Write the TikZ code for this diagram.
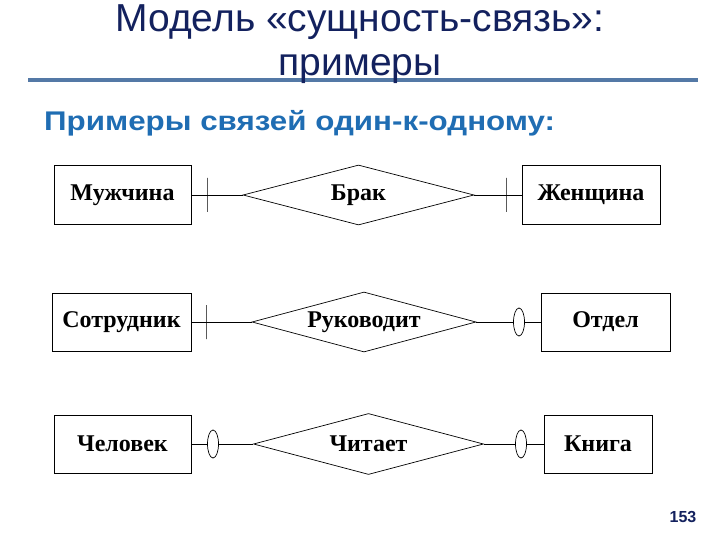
\documentclass[tikz,border=0pt]{standalone}
\usepackage{fontspec}
\setmainfont{Liberation Serif}
\setsansfont{Liberation Sans}
\usepackage{graphicx}
\usepackage{tikz}
\usetikzlibrary{shapes.geometric}
\definecolor{titlenavy}{HTML}{13215E}
\definecolor{subblue}{HTML}{1F6DB3}
\definecolor{rulesteel}{HTML}{5479A6}

\begin{document}
\begin{tikzpicture}[x=1pt, y=-1pt,
  entity/.style={rectangle, draw=black, line width=0.9pt, minimum height=59pt, inner sep=0pt, font=\fontsize{24}{26}\selectfont\bfseries},
  relship/.style={diamond, draw=black, line width=0.7pt, minimum height=60pt, inner sep=0pt},
  reltext/.style={inner sep=0pt, font=\fontsize{24}{26}\selectfont\bfseries},
  onebar/.style={rectangle, draw=black, line width=0.7pt, minimum width=0pt, minimum height=34pt, inner sep=0pt},
  zeroring/.style={ellipse, draw=black, fill=white, line width=0.7pt, minimum width=11pt, minimum height=28pt, inner sep=0pt}]
  \useasboundingbox[fill=white] (0,0) rectangle (720,540);

  % heading
  \draw[rulesteel, line width=3.5pt] (28,80) -- (698,80);
  \node (title1) [anchor=base, text=titlenavy, font=\sffamily\fontsize{39}{42}\selectfont] at (360,32) {Модель «сущность-связь»:};
  \node (title2) [anchor=base, text=titlenavy, font=\sffamily\fontsize{39}{42}\selectfont] at (360,76) {примеры};
  \node (sub) [anchor=base west, inner sep=0pt, text=subblue, font=\sffamily\bfseries\fontsize{27}{30}\selectfont] at (44,131) {\scalebox{1.16}[1]{Примеры связей один-к-одному:}};

  % row 1
  \node (man) [entity, minimum width=137pt] at (122.5,195) {Мужчина};
  \node (brak) [relship, minimum width=231pt, label={[reltext]center:Брак}] at (358.5,195) {};
  \node (woman) [entity, minimum width=138pt] at (591,195) {Женщина};
  \node (b1) [onebar] at (207,195) {};
  \node (b2) [onebar] at (506,195) {};

  % row 2
  \node (emp) [entity, minimum width=139pt, minimum height=58pt] at (121.5,322) {Сотрудник};
  \node (ruk) [relship, minimum width=224pt, label={[reltext]center:Руководит}] at (364,322) {};
  \node (dept) [entity, minimum width=129pt, minimum height=58pt] at (605.5,322) {Отдел};
  \node (b3) [onebar] at (206,322) {};
  \node (o1) [zeroring] at (519,322) {};

  % row 3
  \node (pers) [entity, minimum width=137pt, minimum height=58pt] at (122.5,444) {Человек};
  \node (chit) [relship, minimum width=230pt, minimum height=61pt, label={[reltext]center:Читает}] at (368.5,444) {};
  \node (book) [entity, minimum width=108pt, minimum height=58pt] at (598,444) {Книга};
  \node (o2) [zeroring] at (213,444) {};
  \node (o3) [zeroring] at (521,444) {};

  \path [-] [line width=0.7pt]
  (man) edge (b1)
  (b1) edge (brak)
  (brak) edge (b2)
  (b2) edge (woman)
  (emp) edge (b3)
  (b3) edge (ruk)
  (ruk) edge (o1)
  (o1) edge (dept)
  (pers) edge (o2)
  (o2) edge (chit)
  (chit) edge (o3)
  (o3) edge (book);

  \node (page) [text=titlenavy, font=\sffamily\bfseries\fontsize{16}{18}\selectfont] at (683,517) {153};
\end{tikzpicture}
\end{document}
